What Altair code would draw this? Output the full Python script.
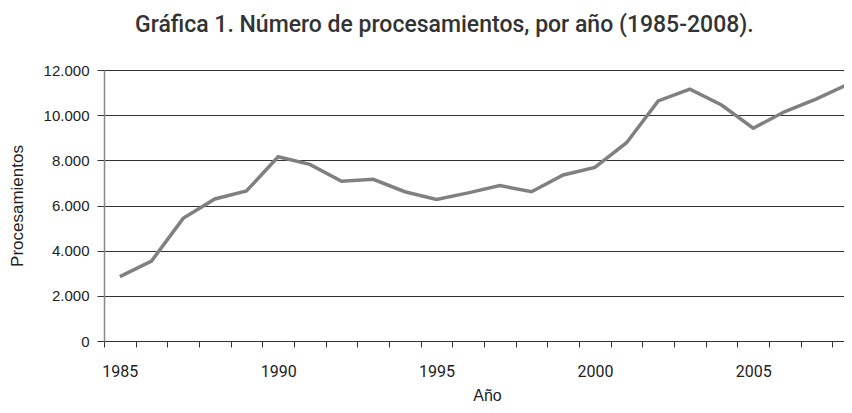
import altair as alt
import pandas as pd

# Data
years = list(range(1985, 2009))
processings = [2850, 3540, 5430, 6290, 6640, 8160, 7820, 7070, 7160, 6610,
               6270, 6560, 6880, 6610, 7350, 7690, 8780, 10630, 11150, 10450,
               9420, 10160, 10720, 11370]
x_label_years = [1985, 1990, 1995, 2000, 2005]
x_tick_edges = [y - 0.5 for y in years]
y_ticks = [0, 2000, 4000, 6000, 8000, 10000, 12000]

df = pd.DataFrame({"Año": years, "Procesamientos": processings})

title_text = "Gráfica 1. Número de procesamientos, por año (1985-2008)."

chart = alt.Chart(df).mark_line(color="#808080", strokeWidth=3.5).encode(
    x=alt.X(
        "Año:Q",
        scale=alt.Scale(domain=[1984.5, 2007.866], nice=False, zero=False),
        axis=alt.Axis(
            values=x_tick_edges + x_label_years,
            labelExpr="(datum.value % 5 == 0) ? ('' + datum.value) : ''",
            labelOverlap=False,
            labelFlush=False,
            grid=False,
            domainColor="#333333",
            domainWidth=1,
            tickColor="#333333",
            tickSize=6,
            tickWidth=1,
            tickOpacity={"condition": {"test": "datum.value % 1 == 0", "value": 0}, "value": 1},
            labelFont="Roboto",
            labelFontSize=16,
            labelColor="#222222",
            labelPadding=16,
            title="Año",
            titleFont="Liberation Sans",
            titleFontSize=16,
            titleFontWeight="normal",
            titleColor="#222222",
            titleX=383,
            titleY=59,
            titleAlign="center",
            titleBaseline="alphabetic",
        ),
    ),
    y=alt.Y(
        "Procesamientos:Q",
        scale=alt.Scale(domain=[0, 12000], nice=False),
        axis=alt.Axis(
            values=y_ticks,
            labelExpr="replace(format(datum.value, ','), ',', '.')",
            grid=True,
            gridColor="#333333",
            gridWidth=1,
            domainColor="#888888",
            domainWidth=1.5,
            tickColor="#333333",
            tickSize=7,
            tickWidth=1,
            labelFont="Liberation Sans",
            labelFontSize=15,
            labelColor="#222222",
            labelPadding=8,
            title="Procesamientos",
            titleFont="Liberation Sans",
            titleFontSize=17,
            titleFontWeight="normal",
            titleColor="#222222",
            titleAngle=270,
            titleX=-87,
            titleY=135.5,
            titleAlign="center",
            titleBaseline="middle",
        ),
    ),
).properties(
    width=740,
    height=271,
    autosize=alt.AutoSizeParams(type="none"),
    padding={"left": 96, "top": 62, "right": 0, "bottom": 64},
    title=alt.TitleParams(
        text=title_text,
        font="Roboto",
        fontSize=23,
        fontWeight=500,
        color="#333333",
        anchor="start",
        frame="group",
        dx=31,
        offset=8,
        baseline="alphabetic",
    ),
).configure_view(strokeWidth=0).configure(background="white")

chart.save("out.html", embed_options={"renderer": "svg", "actions": False})
